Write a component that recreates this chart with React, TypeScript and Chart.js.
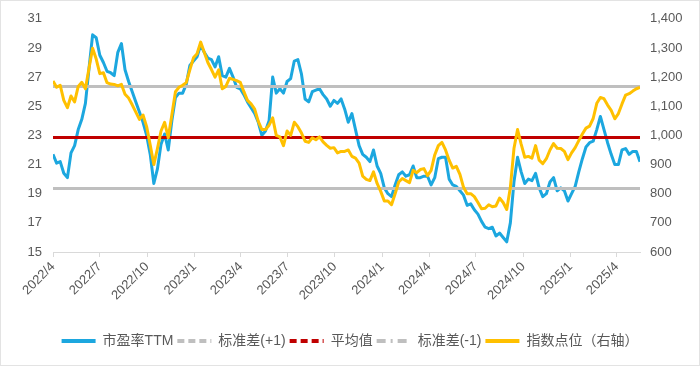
import React, { useEffect, useRef } from 'react';
import { Chart, registerables } from 'chart.js';

Chart.register(...registerables);

// Weekly observations starting 2022-04-01 (day offsets of 7)
const quarterLabels = ['2022/4', '2022/7', '2022/10', '2023/1', '2023/4', '2023/7', '2023/10', '2024/1', '2024/4', '2024/7', '2024/10', '2025/1', '2025/4'];

const peTTM = [
  21.7, 21.1, 21.2, 20.4, 20.1, 21.8, 22.3, 23.4, 24.1, 25.2,
  27.6, 29.9, 29.7, 28.5, 28.0, 27.4, 27.3, 27.1, 28.7, 29.3,
  27.5, 26.7, 26.0, 25.3, 24.6, 23.9, 23.0, 21.7, 19.7, 20.7,
  22.4, 23.1, 22.0, 24.0, 25.6, 25.9, 25.9, 26.5, 27.8, 28.1,
  28.4, 29.2, 28.7, 28.3, 28.2, 27.7, 28.4, 27.1, 27.0, 27.6,
  27.0, 26.3, 26.2, 25.8, 25.3, 24.9, 24.5, 23.9, 23.0, 23.3,
  24.0, 27.0, 25.9, 26.2, 25.9, 26.7, 26.9, 28.1, 28.2, 27.2,
  25.5, 25.3, 26.0, 26.1, 26.2, 25.8, 25.5, 25.0, 25.4, 25.2,
  25.5, 24.8, 23.9, 24.5, 23.4, 22.3, 21.7, 21.5, 21.2, 22.0,
  20.9, 20.4, 19.4, 19.0, 18.8, 19.6, 20.3, 20.5, 20.2, 20.3,
  20.9, 20.1, 20.1, 20.2, 20.2, 19.6, 20.1, 21.4, 21.5, 21.5,
  20.0, 19.6, 19.5, 19.2, 18.9, 18.2, 18.3, 17.9, 17.6, 17.1,
  16.7, 16.6, 16.7, 16.1, 16.3, 16.0, 15.7, 17.0, 19.8, 21.5,
  20.5, 19.7, 20.0, 19.9, 20.4, 19.4, 18.8, 19.0, 19.8, 20.1,
  19.2, 19.4, 19.2, 18.5, 19.0, 19.5, 20.5, 21.4, 22.2, 22.5,
  22.6, 23.4, 24.3, 23.4, 22.5, 21.7, 21.0, 21.0, 22.0, 22.1,
  21.7, 21.9, 21.9, 21.2,
];

const indexPoints = [
  1187, 1165, 1172, 1120, 1095, 1135, 1115, 1168, 1182, 1160,
  1230, 1299, 1262, 1212, 1215, 1181, 1176, 1175, 1170, 1175,
  1141, 1128, 1105, 1080, 1055, 1070, 1030, 967, 900, 955,
  1015, 1045, 992, 1070, 1150, 1165, 1172, 1181, 1225, 1266,
  1280, 1320, 1285, 1250, 1226, 1200, 1225, 1160, 1168, 1196,
  1192, 1188, 1182, 1150, 1120, 1108, 1090, 1048, 1020, 1020,
  1035, 1060, 1000, 995, 965, 1015, 1000, 1045, 1030, 1008,
  980, 976, 992, 985, 995, 978, 966, 956, 958, 940,
  945, 945, 950, 928, 922, 905, 860, 849, 845, 875,
  835, 808, 775, 775, 762, 800, 840, 852, 845, 838,
  880, 872, 883, 886, 862, 880, 933, 965, 976, 950,
  915, 888, 894, 866, 822, 800, 800, 790, 770, 748,
  750, 762, 755, 758, 785, 770, 746, 821, 955, 1020,
  970, 925, 928, 922, 965, 915, 903, 920, 950, 972,
  956, 955, 945, 917, 940, 958, 982, 1005, 1025, 1032,
  1058, 1110, 1130, 1126, 1104, 1086, 1057, 1075, 1108, 1138,
  1143, 1152, 1160, 1165,
];

const stdPlusOne = 26.35;
const meanPE = 22.85;
const stdMinusOne = 19.35;

const seriesNames = ['市盈率TTM', '标准差(+1)', '平均值', '标准差(-1)', '指数点位（右轴）'];

function dayOffset(label: string): number {
  const [y, m] = label.split('/').map(Number);
  return Math.round((Date.UTC(y, m - 1, 1) - Date.UTC(2022, 3, 1)) / 86400000);
}

export default function App() {
  const ref = useRef<HTMLCanvasElement | null>(null);

  useEffect(() => {
    if (!ref.current) return;
    const weekDays = peTTM.map((_, i) => i * 7);
    const lastDay = weekDays[weekDays.length - 1];
    const tickDays = quarterLabels.map(dayOffset);

    const BLUE = '#1CA7DF';
    const GRAY = '#BFBFBF';
    const RED = '#C00000';
    const GOLD = '#FFC000';
    const TEXT = '#595959';
    const colors = [BLUE, GRAY, RED, GRAY, GOLD];
    const dashes = [[], [7, 4], [7, 4], [9, 5, 2, 5], []];
    const tickFont = { family: '"Liberation Sans", Arial, sans-serif', size: 13 };

    const flat = (v: number) => [{ x: 0, y: v }, { x: lastDay, y: v }];

    const chart = new Chart(ref.current, {
      type: 'line',
      data: {
        datasets: [
          {
            label: seriesNames[0],
            data: weekDays.map((d, i) => ({ x: d, y: peTTM[i] })),
            borderColor: BLUE, backgroundColor: BLUE, borderWidth: 3,
            pointRadius: 0, tension: 0, yAxisID: 'y', order: 4,
            borderJoinStyle: 'round',
          },
          {
            label: seriesNames[1], data: flat(stdPlusOne),
            borderColor: GRAY, backgroundColor: GRAY, borderWidth: 3,
            pointRadius: 0, yAxisID: 'y', order: 3,
          },
          {
            label: seriesNames[2], data: flat(meanPE),
            borderColor: RED, backgroundColor: RED, borderWidth: 3,
            pointRadius: 0, yAxisID: 'y', order: 2,
          },
          {
            label: seriesNames[3], data: flat(stdMinusOne),
            borderColor: GRAY, backgroundColor: GRAY, borderWidth: 3,
            pointRadius: 0, yAxisID: 'y', order: 1,
          },
          {
            label: seriesNames[4],
            data: weekDays.map((d, i) => ({ x: d, y: indexPoints[i] })),
            borderColor: GOLD, backgroundColor: GOLD, borderWidth: 3,
            pointRadius: 0, tension: 0, yAxisID: 'y1', order: 0,
            borderJoinStyle: 'round',
          },
        ],
      },
      options: {
        animation: false,
        responsive: true,
        maintainAspectRatio: false,
        layout: { padding: { top: 15, left: 0, right: 0, bottom: 8 } },
        plugins: {
          tooltip: { enabled: false },
          legend: {
            position: 'bottom',
            labels: {
              usePointStyle: true,
              pointStyleWidth: 34,
              padding: 4,
              color: TEXT,
              font: { family: '"Liberation Sans", "Noto Sans CJK SC", sans-serif', size: 14 },
              generateLabels: (c: any) =>
                c.data.datasets.map((ds: any, i: number) => ({
                  text: ds.label,
                  datasetIndex: i,
                  fillStyle: colors[i],
                  strokeStyle: colors[i],
                  lineWidth: 4,
                  lineDash: dashes[i],
                  pointStyle: 'line',
                  hidden: false,
                  fontColor: TEXT,
                })),
            },
          },
        },
        scales: {
          x: {
            type: 'linear',
            min: 0,
            max: lastDay,
            grid: { display: true, drawOnChartArea: false, drawTicks: true, tickLength: 5, color: '#D9D9D9' },
            border: { display: true, color: '#D9D9D9' },
            afterBuildTicks: (s: any) => {
              s.ticks = tickDays.map((v) => ({ value: v }));
            },
            afterFit: (s: any) => { s.height = 78; },
            ticks: {
              autoSkip: false,
              minRotation: 45,
              maxRotation: 45,
              padding: 2,
              color: TEXT,
              font: tickFont,
              callback: (v: any) => {
                const i = tickDays.indexOf(Number(v));
                return i >= 0 ? quarterLabels[i] : '';
              },
            },
          },
          y: {
            position: 'left',
            min: 15,
            max: 31,
            grid: { display: false, drawTicks: false },
            border: { display: false },
            afterFit: (s: any) => { s.width = 53; },
            ticks: { stepSize: 2, padding: 11, color: TEXT, font: tickFont },
          },
          y1: {
            position: 'right',
            min: 600,
            max: 1400,
            grid: { display: false, drawTicks: false },
            border: { display: false },
            afterFit: (s: any) => { s.width = 60; },
            ticks: {
              stepSize: 100,
              padding: 10,
              color: TEXT,
              font: tickFont,
              callback: (v: any) => Number(v).toLocaleString('en-US'),
            },
          },
        },
      },
    } as any);

    return () => chart.destroy();
  }, []);

  return (
    <div style={{ position: 'fixed', left: 0, top: 0, width: 700, height: 366, background: '#fff' }}>
      <canvas ref={ref} />
      <div style={{ position: 'absolute', left: 0, top: 0, width: 700, height: 366, boxSizing: 'border-box', border: '1px solid #E3E3E3', pointerEvents: 'none' }} />
    </div>
  );
}
